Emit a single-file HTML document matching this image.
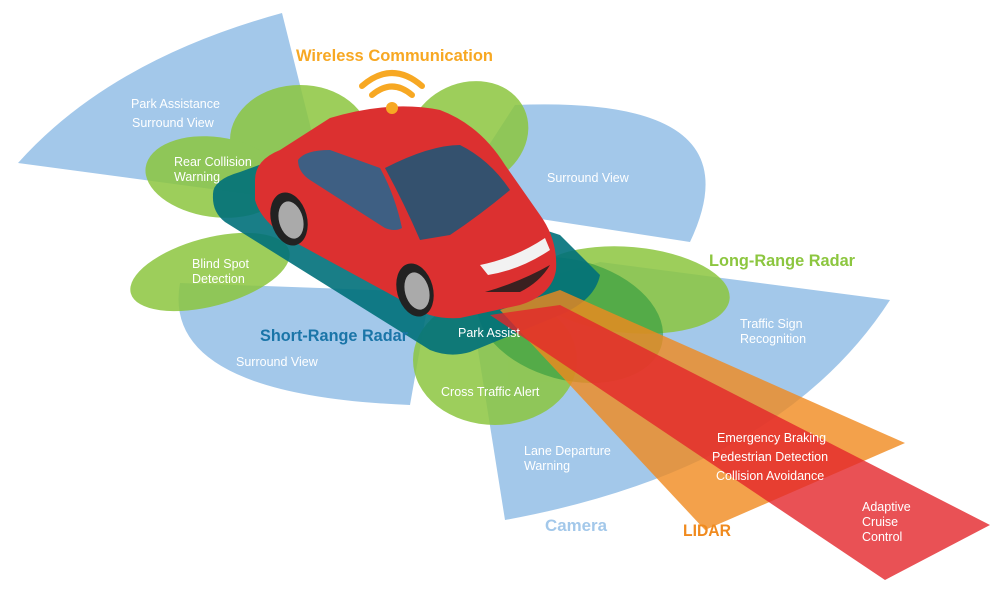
<!DOCTYPE html>
<html><head><meta charset="utf-8"><style>
html,body{margin:0;padding:0;background:#fff;width:1000px;height:601px;overflow:hidden}
svg{display:block}
text{font-family:"Liberation Sans",sans-serif;}
.w{fill:#fff;font-size:12.5px}
.t{font-size:17px;font-weight:bold}
</style></head><body>
<svg width="1000" height="601" viewBox="0 0 1000 601">
<!-- blue wedges -->
<g fill="#a3c8ea">
<path d="M330,205 L18,163 Q110,60 282,13 Z"/>
<path d="M450,205 L515,105 Q760,95 690,242 Z"/>
<path d="M430,292 L180,283 Q160,395 410,405 Z"/>
<path d="M470,300 L600,262 L890,300 Q780,470 505,520 Z"/>
</g>
<!-- green ellipses -->
<g fill="#8cc63f" opacity="0.85">
<ellipse cx="300" cy="140" rx="70" ry="55"/>
<ellipse cx="215" cy="177" rx="70" ry="40" transform="rotate(8 215 177)"/>
<ellipse cx="210" cy="272" rx="82" ry="34" transform="rotate(-15 210 272)"/>
<ellipse cx="468" cy="135" rx="62" ry="52" transform="rotate(-25 468 135)"/>
<ellipse cx="630" cy="290" rx="100" ry="43" transform="rotate(5 630 290)"/>
<ellipse cx="495" cy="360" rx="82" ry="65"/>
</g>
<g fill="#2e9a3e" opacity="0.6">
<ellipse cx="570" cy="320" rx="95" ry="60" transform="rotate(15 570 320)"/>
</g>
<!-- teal footprint -->
<path d="M213,195 Q212,180 240,172 L300,150 L560,235 L600,275 Q595,300 560,315 L470,352 Q450,358 430,350 L225,222 Q212,212 213,195 Z" fill="#00707a" opacity="0.9"/>
<!-- beams -->
<path d="M500,310 L560,290 L905,443 L705,530 Z" fill="#f08a1e" opacity="0.8"/>
<path d="M490,315 L560,305 L990,525 L885,580 Z" fill="#e3262b" opacity="0.8"/>
<!-- car -->
<g>
<path d="M255,180 Q255,160 280,150 L330,118 Q390,100 440,110 Q480,125 505,165 L540,215 Q558,240 556,270 Q552,295 520,305 L460,318 Q430,320 410,305 L300,245 Q262,225 255,200 Z" fill="#dc3030"/>
<path d="M298,160 Q305,150 330,150 L380,168 Q395,195 402,228 Q395,232 385,228 L310,180 Q298,172 298,160 Z" fill="#3e5f83"/>
<path d="M385,168 Q430,145 460,145 Q490,160 510,190 Q480,215 450,235 L420,240 Q405,205 385,168 Z" fill="#34516e"/>
<path d="M480,265 Q515,258 545,238 L550,250 Q520,270 488,275 Z" fill="#f2f2f2"/>
<path d="M485,292 Q520,282 550,265 Q540,282 520,292 Z" fill="#3a2020"/>
<ellipse cx="289" cy="219" rx="18" ry="27" fill="#222" transform="rotate(-15 289 219)"/>
<ellipse cx="291" cy="220" rx="12" ry="19" fill="#aaa" transform="rotate(-15 291 220)"/>
<ellipse cx="415" cy="290" rx="18" ry="27" fill="#222" transform="rotate(-15 415 290)"/>
<ellipse cx="417" cy="291" rx="12" ry="19" fill="#aaa" transform="rotate(-15 417 291)"/>
</g>
<!-- wifi -->
<g fill="none" stroke="#f7a823" stroke-width="6" stroke-linecap="round">
<path d="M362,86 Q392,60 422,86"/>
<path d="M372,95 Q392,78 412,95"/>
</g>
<circle cx="392" cy="108" r="6" fill="#f7a823"/>
<!-- titles -->
<text class="t" x="296" y="61" fill="#f7a823" textLength="197" lengthAdjust="spacingAndGlyphs">Wireless Communication</text>
<text class="t" x="260" y="341" fill="#1a75a8" textLength="148" lengthAdjust="spacingAndGlyphs">Short-Range Radar</text>
<text class="t" x="709" y="266" fill="#8cc63f" textLength="146" lengthAdjust="spacingAndGlyphs">Long-Range Radar</text>
<text class="t" x="545" y="531" fill="#a3c8ea" textLength="62" lengthAdjust="spacingAndGlyphs">Camera</text>
<text class="t" x="683" y="536" fill="#f08a1e" textLength="48" lengthAdjust="spacingAndGlyphs">LIDAR</text>
<!-- labels -->
<text class="w" x="131" y="108">Park Assistance</text>
<text class="w" x="132" y="127">Surround View</text>
<text class="w" x="174" y="166">Rear Collision</text>
<text class="w" x="174" y="181">Warning</text>
<text class="w" x="192" y="268">Blind Spot</text>
<text class="w" x="192" y="283">Detection</text>
<text class="w" x="236" y="366">Surround View</text>
<text class="w" x="547" y="182">Surround View</text>
<text class="w" x="458" y="337">Park Assist</text>
<text class="w" x="441" y="396">Cross Traffic Alert</text>
<text class="w" x="740" y="328">Traffic Sign</text>
<text class="w" x="740" y="343">Recognition</text>
<text class="w" x="524" y="455">Lane Departure</text>
<text class="w" x="524" y="470">Warning</text>
<text class="w" x="717" y="442">Emergency Braking</text>
<text class="w" x="712" y="461">Pedestrian Detection</text>
<text class="w" x="716" y="480">Collision Avoidance</text>
<text class="w" x="862" y="511">Adaptive</text>
<text class="w" x="862" y="526">Cruise</text>
<text class="w" x="862" y="541">Control</text>
</svg>
</body></html>
